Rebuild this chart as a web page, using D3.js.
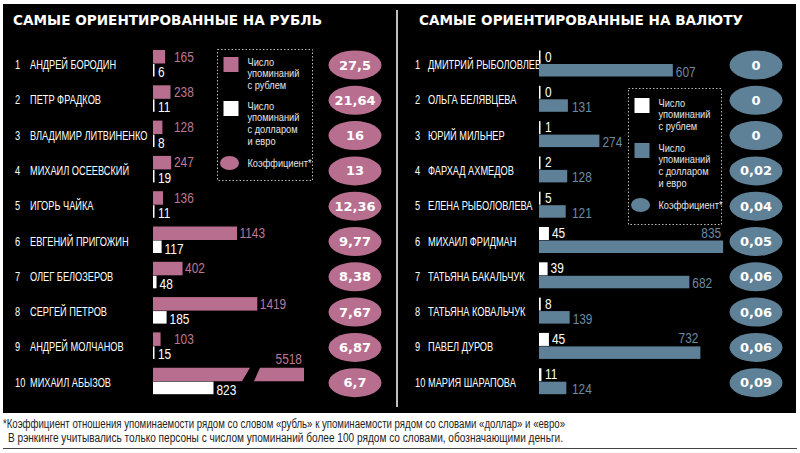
<!DOCTYPE html>
<html><head><meta charset="utf-8">
<script src="https://cdn.jsdelivr.net/npm/d3@7"></script>
<style>html,body{margin:0;padding:0;background:#fff;}svg{display:block;}</style>
</head><body>
<script>
// ---------- DATA ----------
const rubNames = ["АНДРЕЙ БОРОДИН","ПЕТР ФРАДКОВ","ВЛАДИМИР ЛИТВИНЕНКО","МИХАИЛ ОСЕЕВСКИЙ","ИГОРЬ ЧАЙКА","ЕВГЕНИЙ ПРИГОЖИН","ОЛЕГ БЕЛОЗЕРОВ","СЕРГЕЙ ПЕТРОВ","АНДРЕЙ МОЛЧАНОВ","МИХАИЛ АБЫЗОВ"];
const rubRuble = [165,238,128,247,136,1143,402,1419,103,5518];
const rubForeign = [6,11,8,19,11,117,48,185,15,823];
const rubCoef = [27.5,21.64,16,13,12.36,9.77,8.38,7.67,6.87,6.7];

const fxNames = ["ДМИТРИЙ РЫБОЛОВЛЕВ","ОЛЬГА БЕЛЯВЦЕВА","ЮРИЙ МИЛЬНЕР","ФАРХАД АХМЕДОВ","ЕЛЕНА РЫБОЛОВЛЕВА","МИХАИЛ ФРИДМАН","ТАТЬЯНА БАКАЛЬЧУК","ТАТЬЯНА КОВАЛЬЧУК","ПАВЕЛ ДУРОВ","МАРИЯ ШАРАПОВА"];
const fxRuble = [0,0,1,2,5,45,39,8,45,11];
const fxForeign = [607,131,274,128,121,835,682,139,732,124];
const fxCoef = [0,0,0,0.02,0.04,0.05,0.06,0.06,0.06,0.09];

const titles = ["САМЫЕ ОРИЕНТИРОВАННЫЕ НА РУБЛЬ","САМЫЕ ОРИЕНТИРОВАННЫЕ НА ВАЛЮТУ"];
const legendRubLines = [["Число","упоминаний","с рублем"],["Число","упоминаний","с долларом","и евро"],["Коэффициент*"]];
const legendFxLines = [["Число","упоминаний","с рублем"],["Число","упоминаний","с долларом","и евро"],["Коэффициент*"]];
const footnotes = ["*Коэффициент отношения упоминаемости рядом со словом «рубль» к упоминаемости рядом со словами «доллар» и «евро»",
  "В рэнкинге учитывались только персоны с числом упоминаний более 100 рядом со словами, обозначающими деньги."];

// ---------- STYLE ----------
const PINK = "#b86e8e", PINK_T = "#bd7896", BLUE = "#5f8197", BLUE_T = "#6b8ca2";
const SANS = "'Liberation Sans',Arial,sans-serif";
const BOLD = "'DejaVu Sans',sans-serif";
const fmt = v => String(v).replace(".", ",");
// condensed look: horizontal squeeze around each text's anchor
function condense(sel, sx) {
  sel.each(function () {
    const t = d3.select(this), x = +t.attr("x"), yv = +t.attr("y");
    t.attr("x", 0).attr("y", 0).attr("transform", `translate(${x},${yv}) scale(${sx},1)`);
  });
  return sel;
}

const W = 800, H = 453;
const svg = d3.select("body").append("svg").attr("width", W).attr("height", H);
svg.append("rect").attr("width", W).attr("height", H).attr("fill", "#fff");
svg.append("rect").attr("x", 3).attr("y", 4).attr("width", 793).attr("height", 409).attr("fill", "#000");
svg.append("line").attr("x1", 397).attr("x2", 397).attr("y1", 10).attr("y2", 407).attr("stroke", "#fff").attr("stroke-width", 1.5);

const idx = d3.range(10);
const y = d3.scaleLinear().domain([0, 9]).range([63.5, 381.2]);

// titles
svg.selectAll("text.title").data(titles).join("text").attr("class", "title")
  .attr("x", (d, i) => i ? 419 : 13).attr("y", 25)
  .attr("textLength", (d, i) => i ? 324 : 309).attr("lengthAdjust", "spacingAndGlyphs")
  .attr("font-family", BOLD).attr("font-weight", "bold").attr("font-size", 14).attr("fill", "#fff").text(d => d);

function rowsText(g, names, xNum, xName) {
  condense(g.selectAll("text.num").data(idx).join("text").attr("class", "num")
    .attr("x", xNum).attr("y", i => y(i) + 5.5).attr("font-family", SANS).attr("font-size", 12).attr("fill", "#fff").text(i => i + 1), 0.77);
  condense(g.selectAll("text.nm").data(names).join("text").attr("class", "nm")
    .attr("x", xName).attr("y", (d, i) => y(i) + 5.5).attr("font-family", SANS).attr("font-size", 12).attr("fill", "#fff").text(d => d), 0.77);
}
function ellipses(g, vals, cx, color) {
  g.selectAll("ellipse.c").data(vals).join("ellipse").attr("class", "c")
    .attr("cx", cx).attr("cy", (d, i) => y(i) + 1.5).attr("rx", 26.5).attr("ry", 14.5).attr("fill", color);
  g.selectAll("text.c").data(vals).join("text").attr("class", "c")
    .attr("x", cx).attr("y", (d, i) => y(i) + 6).attr("text-anchor", "middle")
    .attr("font-family", BOLD).attr("font-weight", "bold").attr("font-size", 13).attr("fill", "#fff").text(d => fmt(d));
}
const LBL = 14.5, LSX = 0.82;

// ---------- LEFT PANEL ----------
const gL = svg.append("g");
rowsText(gL, rubNames, 15, 30);
const xL = d3.scaleLinear().domain([0, 1419]).range([153, 257.3]);
const BREAK_AT = 2000, BREAK_SHOW = 2054;
const x0L = xL(0);
rubRuble.forEach((v, i) => {
  const top = y(i) - 13.5, bot = y(i);
  if (v > BREAK_AT) {
    const xe = xL(BREAK_SHOW);
    gL.append("path").attr("fill", PINK)
      .attr("d", `M${x0L},${top}L${xe - 54},${top}L${xe - 62},${bot}L${x0L},${bot}Z`);
    gL.append("path").attr("fill", PINK)
      .attr("d", `M${xe - 44},${top}L${xe},${top}L${xe},${bot}L${xe - 50},${bot}Z`);
    condense(gL.append("text").attr("x", xe - 2).attr("y", top - 4).attr("text-anchor", "end")
      .attr("font-family", SANS).attr("font-size", LBL).attr("fill", PINK_T).text(v), LSX);
  } else {
    gL.append("rect").attr("x", x0L).attr("y", top).attr("width", xL(v) - x0L).attr("height", 13.5).attr("fill", PINK);
    condense(gL.append("text").attr("x", Math.max(xL(v) + 2.5, 174)).attr("y", y(i) - 2)
      .attr("font-family", SANS).attr("font-size", LBL).attr("fill", PINK_T).text(v), LSX);
  }
});
gL.selectAll("rect.f").data(rubForeign).join("rect").attr("class", "f")
  .attr("x", x0L).attr("y", (d, i) => y(i) + 0.5).attr("width", d => Math.max(xL(d) - x0L, 1.5)).attr("height", 12.5).attr("fill", "#fff");
condense(gL.selectAll("text.f").data(rubForeign).join("text").attr("class", "f")
  .attr("x", d => Math.max(xL(d) + 3, 158)).attr("y", (d, i) => y(i) + 13.5)
  .attr("font-family", SANS).attr("font-size", LBL).attr("fill", "#fff").text(d => d), LSX);
ellipses(gL, rubCoef, 355, PINK);

function legend(g, x, yTop, w, h, c1, c2, lines, ell, y1, y2, y3) {
  g.append("rect").attr("x", x).attr("y", yTop).attr("width", w).attr("height", h)
    .attr("fill", "none").attr("stroke", "#bbb").attr("stroke-width", 1).attr("stroke-dasharray", "1.5,2");
  g.append("rect").attr("x", x + 6).attr("y", y1).attr("width", 15).attr("height", 15).attr("fill", c1);
  g.append("rect").attr("x", x + 6).attr("y", y2).attr("width", 15).attr("height", 15).attr("fill", c2);
  g.append("ellipse").attr("cx", x + 12).attr("cy", y3).attr("rx", 9.5).attr("ry", 7).attr("fill", ell);
  [[lines[0], y1], [lines[1], y2], [lines[2], y3 - 5]].forEach(([ls, yy]) => {
    condense(g.selectAll(null).data(ls).join("text").attr("x", x + 30).attr("y", (d, k) => yy + 8.5 + k * 11.8)
      .attr("font-family", SANS).attr("font-size", 10.5).attr("fill", "#e6e6e6").text(d => d), 0.88);
  });
}
legend(gL, 217.5, 49.5, 95, 131, PINK, "#fff", legendRubLines, PINK, 57, 101, 163);

// ---------- RIGHT PANEL ----------
const gR = svg.append("g");
rowsText(gR, fxNames, 415, 428);
const xR = d3.scaleLinear().domain([0, 835]).range([539, 723.1]);
const x0R = xR(0);
gR.selectAll("rect.r").data(fxRuble).join("rect").attr("class", "r")
  .attr("x", x0R).attr("y", (d, i) => y(i) - 13).attr("width", d => Math.max(xR(d) - x0R, 1.5)).attr("height", 13).attr("fill", "#fff");
condense(gR.selectAll("text.r").data(fxRuble).join("text").attr("class", "r")
  .attr("x", d => Math.max(xR(d) + 3, 545)).attr("y", (d, i) => y(i) - 2)
  .attr("font-family", SANS).attr("font-size", LBL).attr("fill", "#fff").text(d => d), LSX);
gR.selectAll("rect.f").data(fxForeign).join("rect").attr("class", "f")
  .attr("x", x0R).attr("y", (d, i) => y(i) + 0.5).attr("width", d => xR(d) - x0R).attr("height", 12.5).attr("fill", BLUE);
const LONG = 700;
condense(gR.selectAll("text.f").data(fxForeign).join("text").attr("class", "f")
  .attr("x", d => d > LONG ? xR(d) - 2 : Math.max(xR(d) + 3, 572))
  .attr("y", (d, i) => d > LONG ? y(i) - 2.5 : y(i) + 13)
  .attr("text-anchor", d => d > LONG ? "end" : "start")
  .attr("font-family", SANS).attr("font-size", LBL).attr("fill", BLUE_T).text(d => d), LSX);
ellipses(gR, fxCoef, 756, BLUE);
legend(gR, 628.5, 88.5, 93, 136, "#fff", BLUE, legendFxLines, BLUE, 98, 143, 205);

// ---------- FOOTNOTES ----------
svg.selectAll("text.fn").data(footnotes).join("text").attr("class", "fn")
  .attr("x", (d, i) => i ? 8 : 3).attr("y", (d, i) => 428 + i * 14)
  .attr("textLength", (d, i) => i ? 555 : 562).attr("lengthAdjust", "spacingAndGlyphs")
  .attr("font-family", SANS).attr("font-size", 12).attr("fill", "#222").text(d => d);
svg.append("line").attr("x1", 3).attr("x2", 797).attr("y1", 448.5).attr("y2", 448.5).attr("stroke", "#444").attr("stroke-width", 1);
</script>
</body></html>
